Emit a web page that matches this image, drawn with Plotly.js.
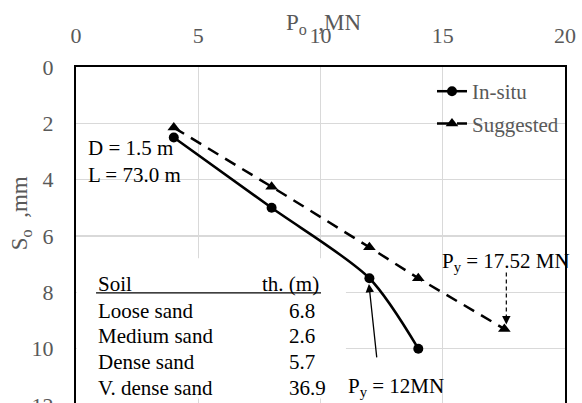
<!DOCTYPE html>
<html>
<head>
<meta charset="utf-8">
<script src="https://cdn.plot.ly/plotly-3.0.1.min.js"></script>
<style>
html,body{margin:0;padding:0;overflow:hidden;background:#fff;}
#chart{width:582px;height:425px;}
</style>
</head>
<body>
<div id="chart"></div>
<script>
// ---- data ----
const inSituLoad = [4, 8, 12, 14];
const inSituSettle = [2.5, 5.0, 7.5, 10.0];
const suggLoad = [4, 8, 12, 14, 17.52];
const suggSettle = [2.15, 4.25, 6.4, 7.5, 9.3];
const xTicks = [0, 5, 10, 15, 20];
const yTicks = [0, 2, 4, 6, 8, 10, 12];
const soilNames = ['Loose sand', 'Medium sand', 'Dense sand', 'V. dense sand'];
const soilThick = ['6.8', '2.6', '5.7', '36.9'];

const FONT = 'Liberation Serif';
const GREY = '#595959';

const traces = [
  {
    name: 'In-situ', legendgroup: 'a',
    x: inSituLoad, y: inSituSettle,
    mode: 'lines+markers',
    line: {color: '#000', width: 2.5, shape: 'spline', smoothing: 0.8},
    marker: {symbol: 'circle', size: 10, color: '#000'}
  },
  {
    name: 'Suggested', legendgroup: 'b',
    x: suggLoad, y: suggSettle,
    mode: 'lines+markers',
    line: {color: '#000', width: 2.5, dash: '12px,8px'},
    marker: {symbol: 'triangle-up', size: 11, color: '#000'}
  }
];

const plotH = 425 - 67 - 20.4;
const plotW = 582 - 76 - 17;
const px = v => (v - 76) / plotW;
const py = v => 1 - (v - 67) / plotH;

// table annotations
const ann = [];
const rowY = [8.67, 9.56, 10.49, 11.38];
const tf = {family: FONT, size: 21, color: '#000'};
ann.push({x: 0.82, y: 7.72, xref: 'x', yref: 'y', text: 'Soil', showarrow: false, xanchor: 'left', yanchor: 'middle', font: tf});
ann.push({x: 10.02, y: 7.72, xref: 'x', yref: 'y', text: 'th. (m)', showarrow: false, xanchor: 'right', yanchor: 'middle', font: tf});
soilNames.forEach((s, i) => {
  ann.push({x: 0.82, y: rowY[i], xref: 'x', yref: 'y', text: s, showarrow: false, xanchor: 'left', yanchor: 'middle', font: tf});
  ann.push({x: 8.63, y: rowY[i], xref: 'x', yref: 'y', text: soilThick[i], showarrow: false, xanchor: 'left', yanchor: 'middle', font: tf});
});
ann.push({x: 0.42, y: 2.88, xref: 'x', yref: 'y', text: 'D = 1.5 m', showarrow: false, xanchor: 'left', yanchor: 'middle', font: tf});
ann.push({x: 0.42, y: 3.84, xref: 'x', yref: 'y', text: 'L = 73.0 m', showarrow: false, xanchor: 'left', yanchor: 'middle', font: tf});
ann.push({x: 14.9, y: 6.93, xref: 'x', yref: 'y', text: 'P<sub>y</sub> = 17.52 MN', showarrow: false, xanchor: 'left', yanchor: 'middle', font: tf});
ann.push({x: 11.05, y: 11.36, xref: 'x', yref: 'y', text: 'P<sub>y</sub> = 12MN', showarrow: false, xanchor: 'left', yanchor: 'middle', font: tf});
// arrows
ann.push({x: 11.98, y: 7.7, xref: 'x', yref: 'y', text: '', showarrow: true, ax: 8, ay: 75, arrowhead: 2, arrowsize: 1.3, arrowwidth: 1.3, arrowcolor: '#000', font: {size: 1}});
ann.push({x: 17.6, y: 9.14, xref: 'x', yref: 'y', text: '', showarrow: true, ax: 0, ay: -9, arrowhead: 2, arrowsize: 1.3, arrowwidth: 1.3, arrowcolor: '#000', font: {size: 1}});
// axis titles
ann.push({x: px(21), y: py(213), xref: 'paper', yref: 'paper', text: 'S<sub>o</sub>&nbsp; ,mm', showarrow: false, textangle: -90, xanchor: 'center', yanchor: 'middle', font: {family: FONT, size: 23, color: GREY}});
ann.push({x: px(324), y: py(24), xref: 'paper', yref: 'paper', text: 'P<sub>o</sub>&nbsp; ,MN', showarrow: false, xanchor: 'center', yanchor: 'middle', font: {family: FONT, size: 23, color: GREY}});

const layout = {
  width: 582, height: 425,
  margin: {l: 76, r: 17, t: 67, b: 20.4, pad: 0},
  paper_bgcolor: '#fff', plot_bgcolor: '#fff',
  font: {family: FONT},
  showlegend: true,
  legend: {x: 0.728, y: 0.988, xanchor: 'left', yanchor: 'top', bgcolor: 'rgba(0,0,0,0)',
           traceorder: 'grouped', tracegroupgap: 2,
           font: {family: FONT, size: 21, color: GREY}},
  xaxis: {
    range: [0, 20], side: 'top', tickvals: xTicks, ticktext: xTicks.map(String),
    showgrid: true, gridcolor: '#d9d9d9', gridwidth: 1.3, zeroline: false,
    showline: true, linecolor: '#000', linewidth: 2, mirror: true,
    ticks: '', ticklabelstandoff: 13,
    tickfont: {family: FONT, size: 22, color: GREY},
    fixedrange: true
  },
  yaxis: {
    range: [12, 0], tickvals: yTicks, ticktext: yTicks.map(String),
    showgrid: true, gridcolor: '#d9d9d9', gridwidth: 1.3, zeroline: false,
    showline: true, linecolor: '#000', linewidth: 2, mirror: true,
    ticks: '', ticklabelstandoff: 16,
    tickfont: {family: FONT, size: 22, color: GREY},
    fixedrange: true
  },
  shapes: [
    {type: 'rect', xref: 'x', yref: 'y', x0: 0.03, x1: 11.04, y0: 6.79, y1: 11.77, fillcolor: '#fff', line: {width: 0}, layer: 'between'},
    {type: 'line', xref: 'x', yref: 'y', x0: 0.82, x1: 10.02, y0: 8.02, y1: 8.02, line: {color: '#000', width: 1.2}, layer: 'above'},
    {type: 'line', xref: 'x', yref: 'y', x0: 17.6, x1: 17.6, y0: 7.3, y1: 8.9, line: {color: '#000', width: 1.2, dash: '4px,3px'}, layer: 'above'}
  ],
  annotations: ann
};

Plotly.newPlot('chart', traces, layout, {staticPlot: true, displayModeBar: false});
</script>
</body>
</html>
